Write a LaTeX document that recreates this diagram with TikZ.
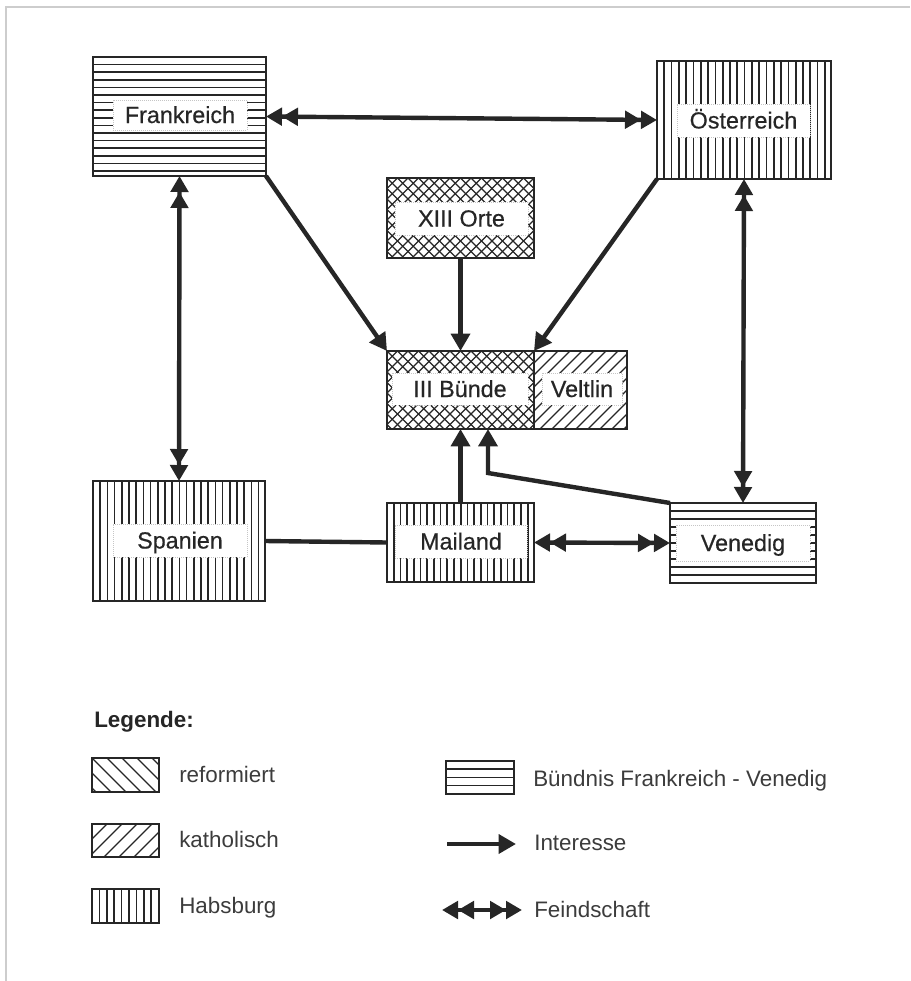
\documentclass[tikz,border=0pt]{standalone}
\usepackage{fontspec}
\setmainfont{Liberation Sans}
\newfontfamily\labfont[FakeBold=0.5]{Liberation Sans}
\usetikzlibrary{arrows.meta,calc}
\definecolor{ink}{RGB}{38,38,38}
\definecolor{framec}{RGB}{205,205,205}
\begin{document}
\begin{tikzpicture}[x=0.75pt,y=-0.75pt,
  box/.style={draw=ink, line width=1.8pt, inner sep=0pt, outer sep=0pt, fill=white},
  lbox/.style={draw=ink, line width=1.3pt, inner sep=0pt, outer sep=0pt, fill=white},
  sz/.style 2 args={minimum width=#1*0.75pt, minimum height=#2*0.75pt},
  hatch/.style={line width=1.3pt, draw=ink},
  thinhatch/.style={line width=0.85pt, draw=ink},
  hl/.style={path picture={
     \coordinate (pnw) at (path picture bounding box.north west);
     \foreach \k in {1,...,30} \draw[hatch] ($(pnw)+(-5,\k*#1)$) -- ++(400,0);}},
  vl/.style={path picture={
     \coordinate (pnw) at (path picture bounding box.north west);
     \foreach \k in {1,...,30} \draw[hatch] ($(pnw)+(\k*#1,-5)$) -- ++(0,400);}},
  sl/.style={path picture={
     \coordinate (pnw) at (path picture bounding box.north west);
     \foreach \k in {-5,...,45} \draw[thinhatch] ($(pnw)+(\k*#1-300,300)$) -- ++(400,-400);}},
  bs/.style={path picture={
     \coordinate (pnw) at (path picture bounding box.north west);
     \foreach \k in {-30,...,40} \draw[thinhatch] ($(pnw)+(\k*#1-300,-300)$) -- ++(700,700);}},
  cross/.style={path picture={
     \coordinate (pnw) at (path picture bounding box.north west);
     \foreach \k in {-5,...,50} \draw[thinhatch] ($(pnw)+(\k*#1-300,300)$) -- ++(400,-400);
     \foreach \k in {-35,...,40} \draw[thinhatch] ($(pnw)+(\k*#1-300,-300)$) -- ++(700,700);}},
  lab/.style={fill=white, draw=gray!45, densely dotted, line width=0.5pt, inner sep=0pt,
     font=\labfont\fontsize{17.5}{19}\selectfont, text=ink, text height=12pt, text depth=0pt},
  legtext/.style={anchor=base west, inner sep=0pt, font=\fontsize{16.8}{18}\selectfont, text=ink!90},
  intr/.style={line width=3.3pt, draw=ink, -{Triangle[length=13pt,width=14pt]}},
  plain/.style={line width=3.3pt, draw=ink},
  feind/.style={line width=3.3pt, draw=ink,
     {Triangle[length=12pt,width=13pt,sep=0pt]Triangle[length=12pt,width=13pt]}-{Triangle[length=12pt,width=13pt,sep=0pt]Triangle[length=12pt,width=13pt]}}
]
\useasboundingbox[fill=white] (0,0) rectangle (910,981);
\draw[framec, line width=0.8pt] (6,981) -- (6,7) -- (910,7);

% main boxes
\node[box, sz={173}{119}, hl=7.6] (fr) at (179.5,116.5) {};
\node[box, sz={174}{118}, vl=7.3] (oe) at (744,120) {};
\node[box, sz={147}{80}, cross=10.5] (xo) at (460.5,218) {};
\node[box, sz={147}{78}, cross=10.5] (bu) at (460.5,390) {};
\node[box, sz={93}{78}, sl=12] (lt) at (580.5,390) {};
\node[box, sz={172}{120}, vl=7.2] (sp) at (179,541) {};
\node[box, sz={147}{79}, vl=6.7] (ma) at (460.5,542.5) {};
\node[box, sz={146}{80}, hl=8] (ve) at (743,543) {};

% labels
\node[lab, sz={134}{30}] (frl) at (180,115) {Frankreich};
\node[lab, sz={133}{33}] (oel) at (743.5,120.5) {Österreich};
\node[lab, sz={133}{33}] (xol) at (461.5,218.5) {XIII Orte};
\node[lab, sz={136}{32}] (bul) at (460,389) {III Bünde};
\node[lab, sz={80}{32}] (ltl) at (582,389) {Veltlin};
\node[lab, sz={134}{33}] (spl) at (180,540.5) {Spanien};
\node[lab, sz={132}{33}] (mal) at (461,541.5) {Mailand};
\node[lab, sz={134}{36}] (vel) at (743,543) {Venedig};

% connectors
\draw[feind] (fr.east) -- (oe.west);
\draw[feind] (fr.south) -- (sp.north);
\draw[feind] (oe.south) -- (ve.north);
\draw[feind] (ma.east) -- (ve.west);
\draw[intr] (fr.south east) -- (bu.north west);
\draw[intr] (oe.south west) -- (bu.north east);
\draw[intr] (xo.south) -- (bu.north);
\draw[intr] (ma.north) -- (bu.south);
\coordinate (vb) at ($(bu.south)+(27.5,44)$);
\draw[intr] (ve.north west) -- (vb) -- (vb |- bu.south);
\draw[plain] (sp.east) -- (ma.west);

% legend
\node[legtext, font=\bfseries\fontsize{16.8}{18}\selectfont, text=ink] (lg) at (94,727) {Legende:};
\node[lbox, sz={67}{34}, bs=15] (lr) at (125.5,775) {};
\node[lbox, sz={67}{33}, sl=15] (lk) at (125.5,840.5) {};
\node[lbox, sz={67}{34}, vl=7.4] (lh) at (125.5,906) {};
\node[lbox, sz={68}{33}, hl=8.2] (lb) at (480,777.5) {};
\node[legtext] (tr) at (179,782) {reformiert};
\node[legtext] (tk) at (179,847) {katholisch};
\node[legtext] (th) at (179,913) {Habsburg};
\node[legtext] (tb) at (533,786) {Bündnis Frankreich - Venedig};
\node[legtext] (ti) at (534,850) {Interesse};
\node[legtext] (tf) at (534,917) {Feindschaft};
\coordinate (ia) at (447,844);
\coordinate (ib) at (516,844);
\coordinate (fa) at (442,910);
\coordinate (fb) at (522,910);
\draw[intr] (ia) -- (ib);
\draw[feind] (fa) -- (fb);
\end{tikzpicture}
\end{document}
